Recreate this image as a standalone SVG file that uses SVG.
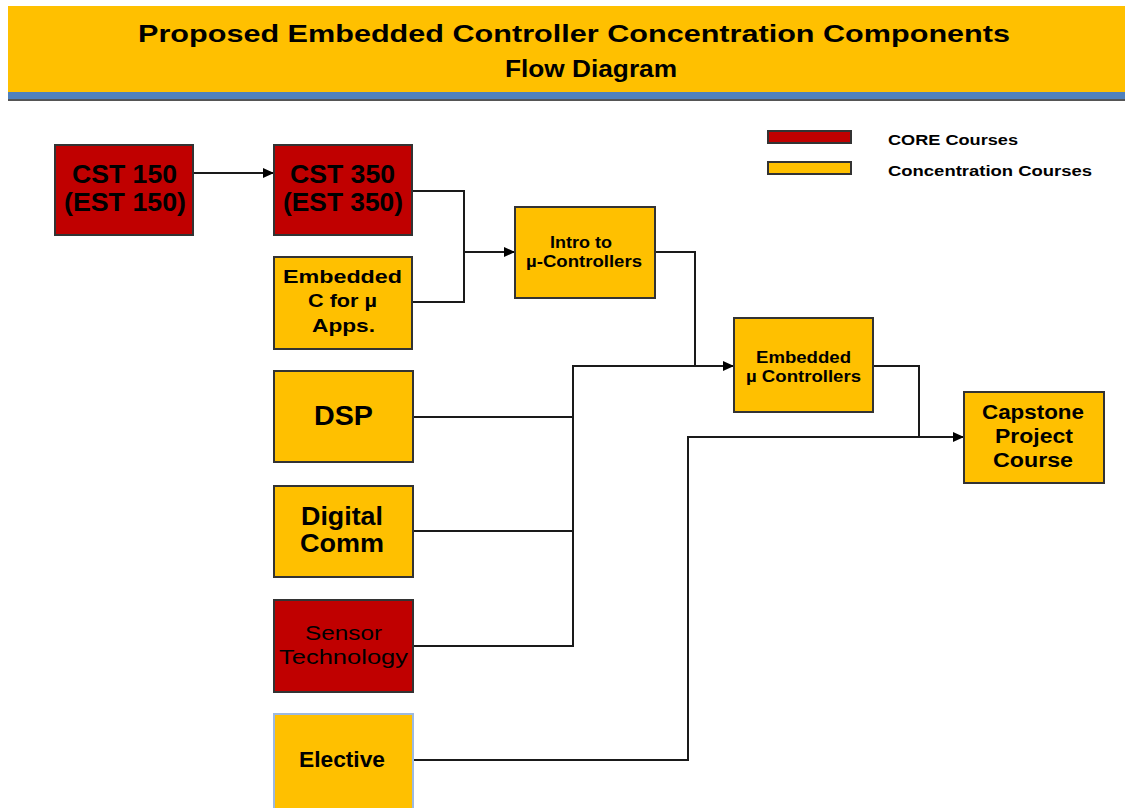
<svg xmlns="http://www.w3.org/2000/svg" width="1127" height="808" viewBox="0 0 1127 808">
<defs>
<style>
.red{fill:#C00000;stroke:#333;stroke-width:2}
.yel{fill:#FFC000;stroke:#333;stroke-width:2}
.t{font-family:"Liberation Sans",Arial,sans-serif;font-weight:bold;fill:#000}
.c{fill:none;stroke:#1a1a1a;stroke-width:2}
</style>
<marker id="arr" markerUnits="userSpaceOnUse" markerWidth="12" markerHeight="10" refX="11" refY="5" orient="auto">
<path d="M0,0 L11,5 L0,10 z" fill="#000"/>
</marker>
</defs>
<rect width="1127" height="808" fill="#fff"/>
<g id="title">
<rect x="8" y="6" width="1117" height="86" fill="#FFC000"/>
<rect x="8" y="92" width="1117" height="8" fill="#4F81BD"/>
<rect x="8" y="99" width="1117" height="2" fill="#555"/>
<text class="t" x="138" y="42" font-size="24" textLength="872" lengthAdjust="spacingAndGlyphs">Proposed Embedded Controller Concentration Components</text>
<text class="t" x="505" y="77" font-size="24" textLength="172" lengthAdjust="spacingAndGlyphs">Flow Diagram</text>
</g>
<g id="legend">
<rect x="768" y="131" width="83" height="12" class="red"/>
<rect x="768" y="162" width="83" height="12" class="yel"/>
<text class="t" x="888" y="145" font-size="14" textLength="130" lengthAdjust="spacingAndGlyphs" fill="#222">CORE  Courses</text>
<text class="t" x="888" y="176" font-size="14" textLength="204" lengthAdjust="spacingAndGlyphs" fill="#222">Concentration  Courses</text>
</g>
<g id="connectors">
<path class="c" d="M193,173 H274" marker-end="url(#arr)"/>
<path class="c" d="M412,191 H464 V302 H412"/>
<path class="c" d="M464,252 H515" marker-end="url(#arr)"/>
<path class="c" d="M655,252 H695 V366"/>
<path class="c" d="M413,417 H573"/>
<path class="c" d="M413,531 H573"/>
<path class="c" d="M413,646 H573 V366 H734" marker-end="url(#arr)"/>
<path class="c" d="M873,366 H919 V437"/>
<path class="c" d="M413,760 H688 V437 H964" marker-end="url(#arr)"/>
</g>
<g id="cst150">
<rect x="55" y="145" width="138" height="90" class="red"/>
<text class="t" x="72" y="183" font-size="25" textLength="105" lengthAdjust="spacingAndGlyphs">CST 150</text>
<text class="t" x="64" y="211" font-size="25" textLength="122" lengthAdjust="spacingAndGlyphs">(EST 150)</text>
</g>
<g id="cst350">
<rect x="274" y="145" width="138" height="90" class="red"/>
<text class="t" x="290" y="183" font-size="25" textLength="105" lengthAdjust="spacingAndGlyphs">CST 350</text>
<text class="t" x="283" y="211" font-size="25" textLength="120" lengthAdjust="spacingAndGlyphs">(EST 350)</text>
</g>
<g id="embc">
<rect x="274" y="257" width="138" height="92" class="yel"/>
<text class="t" x="283" y="283" font-size="19" textLength="119" lengthAdjust="spacingAndGlyphs">Embedded</text>
<text class="t" x="308" y="307" font-size="19" textLength="69" lengthAdjust="spacingAndGlyphs">C for µ</text>
<text class="t" x="312" y="332" font-size="19" textLength="63" lengthAdjust="spacingAndGlyphs">Apps.</text>
</g>
<g id="intro">
<rect x="515" y="207" width="140" height="91" class="yel"/>
<text class="t" x="550" y="248" font-size="17" textLength="62" lengthAdjust="spacingAndGlyphs">Intro to</text>
<text class="t" x="526" y="267" font-size="17" textLength="116" lengthAdjust="spacingAndGlyphs">µ-Controllers</text>
</g>
<g id="embctrl">
<rect x="734" y="318" width="139" height="94" class="yel"/>
<text class="t" x="756" y="363" font-size="17" textLength="95" lengthAdjust="spacingAndGlyphs">Embedded</text>
<text class="t" x="746" y="382" font-size="17" textLength="115" lengthAdjust="spacingAndGlyphs">µ Controllers</text>
</g>
<g id="dsp">
<rect x="274" y="371" width="139" height="91" class="yel"/>
<text class="t" x="314" y="425" font-size="27" textLength="59" lengthAdjust="spacingAndGlyphs">DSP</text>
</g>
<g id="digcomm">
<rect x="274" y="486" width="139" height="91" class="yel"/>
<text class="t" x="301" y="525" font-size="25" textLength="82" lengthAdjust="spacingAndGlyphs">Digital</text>
<text class="t" x="300" y="552" font-size="25" textLength="84" lengthAdjust="spacingAndGlyphs">Comm</text>
</g>
<g id="sensor">
<rect x="274" y="600" width="139" height="92" class="red"/>
<text class="t" x="305" y="640" font-size="21" textLength="77" lengthAdjust="spacingAndGlyphs" style="font-weight:normal">Sensor</text>
<text class="t" x="279" y="664" font-size="21" textLength="129" lengthAdjust="spacingAndGlyphs" style="font-weight:normal">Technology</text>
</g>
<g id="elective">
<rect x="274" y="714" width="139" height="100" fill="#FFC000" stroke="#9DB9E0" stroke-width="2"/>
<text class="t" x="299" y="767" font-size="22" textLength="86" lengthAdjust="spacingAndGlyphs">Elective</text>
</g>
<g id="capstone">
<rect x="964" y="392" width="140" height="91" class="yel"/>
<text class="t" x="982" y="419" font-size="20" textLength="102" lengthAdjust="spacingAndGlyphs">Capstone</text>
<text class="t" x="995" y="443" font-size="20" textLength="78" lengthAdjust="spacingAndGlyphs">Project</text>
<text class="t" x="993" y="467" font-size="20" textLength="80" lengthAdjust="spacingAndGlyphs">Course</text>
</g>
</svg>
